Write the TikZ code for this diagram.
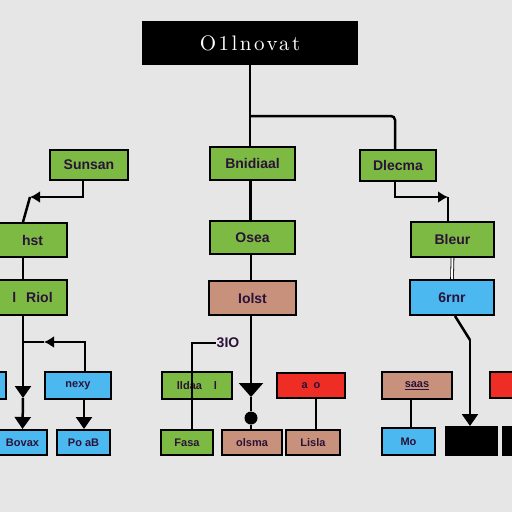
\documentclass[tikz,border=0pt]{standalone}
\usepackage{fontspec}
\newfontfamily\boxfont{Liberation Sans}
\newfontfamily\titlefont[Extension=.otf, LetterSpace=12]{lmroman10-regular}
\usetikzlibrary{arrows.meta}
\definecolor{bggray}{HTML}{E6E6E6}
\definecolor{gfill}{HTML}{7CBA44}
\definecolor{bfill}{HTML}{4BB8F0}
\definecolor{rfill}{HTML}{EE2E24}
\definecolor{tfill}{HTML}{C8917B}
\definecolor{txt}{HTML}{2A1238}

\begin{document}
\begin{tikzpicture}[x=1pt, y=-1pt,
  sz/.style 2 args={minimum width=#1pt, minimum height=#2pt},
  box/.style={draw=black, line width=2pt, inner sep=0pt, text=txt,
    font=\boxfont\bfseries\fontsize{14}{16}\selectfont},
  small/.style={font=\boxfont\bfseries\fontsize{11}{13}\selectfont},
  gbox/.style={box, fill=gfill},
  bbox/.style={box, fill=bfill},
  rbox/.style={box, fill=rfill},
  tbox/.style={box, fill=tfill},
  kbox/.style={box, fill=black},
  line/.style={line width=2.5pt, black},
  tri/.style={-{Triangle[width=16pt,length=12pt]}},
  kink/.style={-{Latex[width=12pt,length=10pt]}}]
\fill[bggray] (0,0) rectangle (512,512);
\useasboundingbox (0,0) rectangle (512,512);

\node [kbox, sz={214}{42}, text=white, font=\titlefont\fontsize{21}{24}\selectfont] (title) at (250,43) {O1lnovat};

\node [gbox, sz={78}{30}] (sunsan) at (89,165) {Sunsan};
\node [gbox, sz={85}{33}] (bnid) at (252.5,163.5) {Bnidiaal};
\node [gbox, sz={76}{31}] (dlecma) at (398,165.5) {Dlecma};

\node [gbox, sz={69}{34}] (hst) at (32.5,240) {hst};
\node [gbox, sz={85}{33}] (osea) at (252.5,237.5) {Osea};
\node [gbox, sz={83}{35}] (bleur) at (452.5,239.5) {Bleur};

\node [gbox, sz={69}{35}] (riol) at (32.5,297.5) {l\hspace{10pt}Riol\hspace{12pt}};
\node [tbox, sz={87}{34}] (iolst) at (252.5,298) {Iolst};
\node [bbox, sz={84}{35}] (bfrnr) at (452,297.5) {6rnr};

\node [bbox, sz={10}{27}] (edgeb) at (1,385.5) {};
\node [bbox, sz={66}{27}, small] (nexy) at (78,385.5) {nexy};
\node [gbox, sz={70}{27}, small] (ldal) at (197,385.5) {lldaa\hspace{12pt}l};
\node [rbox, sz={68}{25}, small] (redmid) at (311,385.5) {a\hspace{6pt}o};
\node [tbox, sz={70}{27}, small] (tanr) at (417,385.5) {\underline{saas}};
\node [rbox, sz={30}{26}] (edger) at (505,385) {};

\node [bbox, sz={49}{25}, small] (bovax) at (22.5,442.5) {Bovax};
\node [bbox, sz={53}{25}, small] (poab) at (83.5,442.5) {Po aB};
\node [gbox, sz={52}{25}, small] (fasa) at (187,442.5) {Fasa};
\node [tbox, sz={60}{25}, small] (olsma) at (252,442.5) {olsma};
\node [tbox, sz={54}{25}, small] (lisla) at (313,442.5) {Lisla};
\node [bbox, sz={53}{27}, small] (mo) at (408.5,441.5) {Mo};
\node [kbox, sz={51}{28}] (blk) at (471.5,441) {};
\node [kbox, sz={18}{28}] (blkr) at (512,441) {};

\node [box, draw=none, text=txt, inner sep=0pt] (code) at (228,343) {3IO};
\node [circle, fill=black, inner sep=0pt, minimum size=13pt] (dot) at (251,418) {};

\coordinate (j1) at (250,116);
\coordinate (k1) at (30,197);
\coordinate (k2) at (448,197);
\coordinate (a1) at (23,398);
\coordinate (b1) at (23,342);
\coordinate (b2) at (44,342);
\coordinate (m1) at (251,397);
\coordinate (bend) at (470,340);

\draw [line] (title.south) -- (title.south |- bnid.north);
\draw [line, rounded corners=4pt] (j1) -| ([xshift=-3pt]dlecma.north);
\draw [line] ([xshift=-2pt]bnid.south) -- ([xshift=-2pt]osea.north);
\draw [line] ([xshift=-1.5pt]osea.south) -- ([xshift=-1.5pt]iolst.north);

\draw [line, kink] ([xshift=-6pt]sunsan.south) |- (k1);
\draw [line] (k1) -- ([xshift=-9.5pt]hst.north);
\draw [line] ([xshift=-9.5pt]hst.south) -- ([xshift=-9.5pt]riol.north);
\draw [line, tri] ([xshift=-9.5pt]riol.south) -- (a1);
\draw [line, tri] (a1) -- (bovax.north);
\draw [line, kink] ([xshift=7pt]nexy.north) |- (b2);
\draw [line] (b2) -- (b1);
\draw [line, tri] ([xshift=6pt]nexy.south) -- ([xshift=0.5pt]poab.north);

\draw [line] (code.west) -| ([xshift=5pt]fasa.north);
\draw [line, -{Triangle[width=24pt,length=14pt]}] ([xshift=-1.5pt]iolst.south) -- (m1);
\draw [line] (m1) -- (dot) -- (dot |- olsma.north);
\draw [line] ([xshift=5pt]redmid.south) -- ([xshift=3pt]lisla.north);

\draw [line, kink] ([xshift=-3pt]dlecma.south) |- (k2);
\draw [line] (k2) -- ([xshift=-4.5pt]bleur.north);
\draw [double, double distance=2pt, line width=0.8pt] (bleur.south) -- (bfrnr.north);
\draw [line] ([xshift=3pt]bfrnr.south) -- (bend);
\draw [line, tri] (bend) -- (bend |- blk.north);
\draw [line] ([xshift=-6pt]tanr.south) -- ([xshift=2.5pt]mo.north);
\end{tikzpicture}
\end{document}
